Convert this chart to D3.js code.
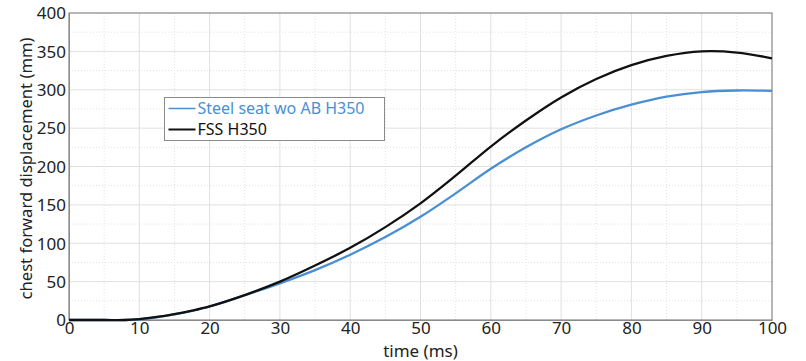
<!DOCTYPE html>
<html>
<head>
<meta charset="utf-8">
<script src="https://cdn.jsdelivr.net/npm/d3@7"></script>
<style>
  body { margin: 0; background: #fff; }
  text { font-family: "Noto Sans", "Open Sans", sans-serif; }
</style>
</head>
<body>
<div id="chart"></div>
<script>
// time samples (ms)
const timeMs = [0, 5, 8, 10, 12.5, 15, 17.5, 20, 25, 30, 35, 40, 45, 50, 55, 60, 65, 70, 75, 80, 85, 90, 95, 100];
// Steel seat wo AB H350
const steelSeat = [0, 0, 0, 1, 3.6, 7.5, 12, 17.6, 32.3, 47.8, 65, 85, 108, 134.5, 165, 197, 225, 248.5, 266.5, 280.5, 291, 297, 299, 298.5];
// FSS H350
const fss = [0, 0, 0, 1.2, 4, 7.8, 12.3, 17.8, 32.5, 50, 71, 94, 121, 152, 188, 226, 260, 290, 314, 332, 344, 350, 348.5, 341];
const seriesNames = ['Steel seat wo AB H350', 'FSS H350'];
const seriesColors = ['#4a8fd4', '#111111'];
const xTicks = [0, 10, 20, 30, 40, 50, 60, 70, 80, 90, 100];
const yTicks = [0, 50, 100, 150, 200, 250, 300, 350, 400];

const W = 806, H = 361;
const margin = { top: 13, right: 34, bottom: 41, left: 69 };
const width = W - margin.left - margin.right;
const height = H - margin.top - margin.bottom;

const svg = d3.select('#chart').append('svg')
  .attr('width', W)
  .attr('height', H);
const g = svg.append('g')
  .attr('transform', 'translate(' + margin.left + ',' + margin.top + ')');

const x = d3.scaleLinear().domain([0, 100]).range([0, width]);
const y = d3.scaleLinear().domain([0, 400]).range([height, 0]);

// minor grid (dotted)
const minorX = d3.range(5, 100, 10), minorY = d3.range(25, 400, 50);
g.append('g').selectAll('line').data(minorX).enter().append('line')
  .attr('x1', d => x(d)).attr('x2', d => x(d)).attr('y1', 0).attr('y2', height)
  .attr('stroke', '#e2e2e2').attr('stroke-dasharray', '1,2');
g.append('g').selectAll('line').data(minorY).enter().append('line')
  .attr('y1', d => y(d)).attr('y2', d => y(d)).attr('x1', 0).attr('x2', width)
  .attr('stroke', '#e2e2e2').attr('stroke-dasharray', '1,2');

// major grid
g.append('g').selectAll('line').data(xTicks.slice(1, -1)).enter().append('line')
  .attr('x1', d => x(d)).attr('x2', d => x(d)).attr('y1', 0).attr('y2', height)
  .attr('stroke', '#e0e0e0');
g.append('g').selectAll('line').data(yTicks.slice(1, -1)).enter().append('line')
  .attr('y1', d => y(d)).attr('y2', d => y(d)).attr('x1', 0).attr('x2', width)
  .attr('stroke', '#e0e0e0');

// frame
g.append('rect')
  .attr('width', width).attr('height', height)
  .attr('fill', 'none').attr('stroke', '#6e6e6e');

// axes
const xAxis = d3.axisBottom(x).tickValues(xTicks).tickSize(0).tickPadding(2);
const yAxis = d3.axisLeft(y).tickValues(yTicks).tickSize(0).tickPadding(3);
const xg = g.append('g').attr('transform', 'translate(0,' + height + ')').call(xAxis);
const yg = g.append('g').call(yAxis);
[xg, yg].forEach(a => {
  a.select('.domain').attr('stroke', '#8a8a8a');
  a.selectAll('text').attr('font-size', 17).attr('fill', '#222')
    .style('font-family', '"Noto Sans", sans-serif');
});
yg.selectAll('text').attr('dy', '0.34em');
xg.selectAll('text').attr('dy', '0.68em');

// titles
svg.append('text')
  .attr('x', margin.left + width / 2).attr('y', H - 4)
  .attr('text-anchor', 'middle').attr('font-size', 17).attr('fill', '#222')
  .text('time (ms)');
svg.append('text')
  .attr('transform', 'translate(32,' + (margin.top + height / 2 + 2) + ') rotate(-90)')
  .attr('text-anchor', 'middle').attr('font-size', 16.6).attr('fill', '#222')
  .text('chest forward displacement (mm)');

// lines
const line = d3.line()
  .x(d => x(d[0])).y(d => y(d[1]))
  .curve(d3.curveCatmullRom.alpha(0.5));
[steelSeat, fss].forEach((vals, i) => {
  g.append('path')
    .datum(timeMs.map((t, j) => [t, vals[j]]))
    .attr('fill', 'none')
    .attr('stroke', seriesColors[i])
    .attr('stroke-width', 2.3)
    .attr('d', line);
});

// legend
const lg = svg.append('g').attr('transform', 'translate(164.5,97.5)');
lg.append('rect').attr('width', 220).attr('height', 43)
  .attr('fill', '#fff').attr('stroke', '#8a8a8a');
seriesNames.forEach((name, i) => {
  const cy = 11 + i * 21;
  lg.append('line').attr('x1', 4).attr('x2', 31).attr('y1', cy).attr('y2', cy)
    .attr('stroke', seriesColors[i]).attr('stroke-width', i === 0 ? 1.5 : 2);
  lg.append('text').attr('x', 33).attr('y', cy).attr('dy', '0.35em')
    .attr('font-size', 16).attr('fill', i === 0 ? seriesColors[0] : '#111')
    .text(name);
});
</script>
</body>
</html>
